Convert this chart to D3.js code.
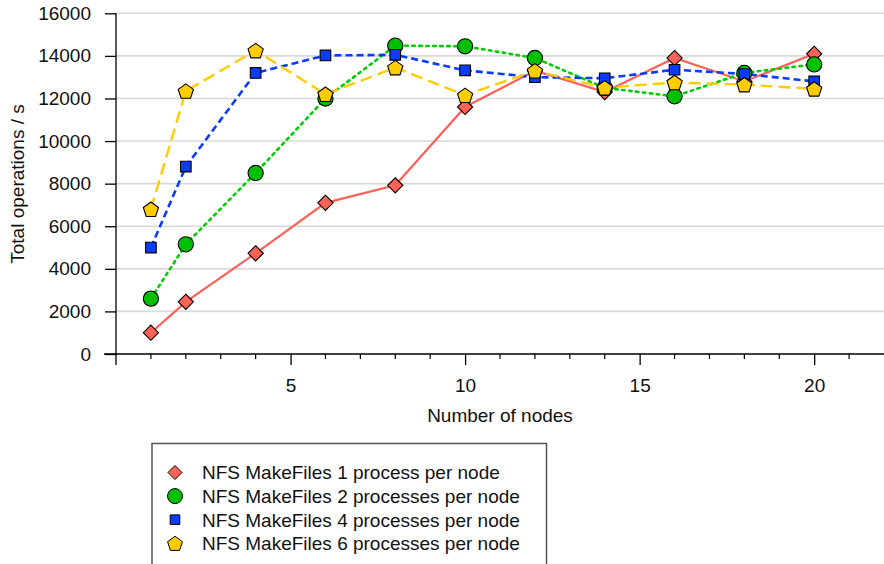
<!DOCTYPE html>
<html><head><meta charset="utf-8">
<script src="https://cdnjs.cloudflare.com/ajax/libs/d3/7.8.5/d3.min.js"></script>
<style>
html,body{margin:0;padding:0;background:#fff;}
svg{display:block;font-family:"Liberation Sans",Arial,Helvetica,sans-serif;}
</style></head>
<body><svg id="chart" width="884" height="564"></svg>
<script>
const nodes = [1, 2, 4, 6, 8, 10, 12, 14, 16, 18, 20];
const seriesNames = [
  "NFS MakeFiles 1 process per node",
  "NFS MakeFiles 2 processes per node",
  "NFS MakeFiles 4 processes per node",
  "NFS MakeFiles 6 processes per node"
];
const ops1 = [1000, 2450, 4730, 7100, 7920, 11600, 13300, 12300, 13900, 12800, 14100];
const ops2 = [2600, 5150, 8500, 12000, 14480, 14450, 13900, 12500, 12100, 13200, 13600];
const ops4 = [5000, 8800, 13200, 14020, 14050, 13320, 13000, 12950, 13350, 13150, 12800];
const ops6 = [6800, 12350, 14250, 12200, 13450, 12150, 13300, 12500, 12750, 12650, 12450];
const yTicks = [0, 2000, 4000, 6000, 8000, 10000, 12000, 14000, 16000];
const xMajorTicks = [5, 10, 15, 20];
const xTitle = "Number of nodes";
const yTitle = "Total operations / s";

const seriesValues = [ops1, ops2, ops4, ops6];
const colors = ["#fb6158", "#00cc00", "#0a3cff", "#ffcc00"];
const markerFill = ["#ff6257", "#00c000", "#0a3cff", "#ffcc00"];
const dashes = [null, "2.5,4.5", "7,4", "12,6"];
const lineWidths = [2.2, 2.6, 2.6, 2.4];
const shapes = ["diamond", "circle", "square", "pentagon"];
const FS = 19;

const svg = d3.select("#chart");
const x = d3.scaleLinear().domain([0, 22]).range([116, 884]);
const y = d3.scaleLinear().domain([0, 16000]).range([354, 13.3]);

function shapePath(kind, s) {
  const p = d3.path();
  if (kind === "diamond") {
    p.moveTo(0, -s); p.lineTo(s, 0); p.lineTo(0, s); p.lineTo(-s, 0); p.closePath();
  } else if (kind === "circle") {
    p.arc(0, 0, s, 0, 2 * Math.PI); p.closePath();
  } else if (kind === "square") {
    p.rect(-s, -s, 2 * s, 2 * s);
  } else {
    for (let i = 0; i < 5; i++) {
      const a = -Math.PI / 2 + i * 2 * Math.PI / 5;
      const px = s * Math.cos(a), py = s * Math.sin(a) + s * 0.1;
      if (i === 0) p.moveTo(px, py); else p.lineTo(px, py);
    }
    p.closePath();
  }
  return p.toString();
}
const plotSize = {diamond: 7.6, circle: 7.6, square: 5.3, pentagon: 8};
const legSize = {diamond: 7, circle: 7.5, square: 4.8, pentagon: 7.8};

// gridlines
svg.append("g").selectAll("line").data(yTicks.filter(d => d > 0)).join("line")
  .attr("x1", x(0)).attr("x2", 884).attr("y1", d => y(d)).attr("y2", d => y(d))
  .attr("stroke", "#d9d9d9").attr("stroke-width", 1.6);

// y axis
const yAxis = svg.append("g").attr("transform", `translate(${x(0)},0)`)
  .call(d3.axisLeft(y).tickValues(yTicks).tickSize(11).tickPadding(14).tickFormat(d3.format("d")));
yAxis.select(".domain").remove();
yAxis.selectAll(".tick line").attr("stroke", "#000").attr("stroke-width", 1.3);
yAxis.selectAll("text").attr("font-size", FS).attr("fill", "#111")
  .attr("font-family", "Liberation Sans, Arial, sans-serif");
svg.append("line").attr("x1", x(0)).attr("x2", x(0)).attr("y1", y(16000)).attr("y2", 365)
  .attr("stroke", "#000").attr("stroke-width", 1.3);

// x axis
svg.append("line").attr("x1", 104).attr("x2", 884).attr("y1", y(0)).attr("y2", y(0))
  .attr("stroke", "#000").attr("stroke-width", 1.3);
const minor = d3.range(1, 22).filter(d => d % 5 !== 0);
svg.append("g").selectAll("line").data(minor).join("line")
  .attr("x1", d => x(d)).attr("x2", d => x(d)).attr("y1", y(0)).attr("y2", y(0) + 5)
  .attr("stroke", "#000").attr("stroke-width", 1.2);
const xAxis = svg.append("g").attr("transform", `translate(0,${y(0)})`)
  .call(d3.axisBottom(x).tickValues(xMajorTicks).tickSize(11).tickPadding(14).tickFormat(d3.format("d")));
xAxis.select(".domain").remove();
xAxis.selectAll(".tick line").attr("stroke", "#000").attr("stroke-width", 1.3);
xAxis.selectAll("text").attr("font-size", FS).attr("fill", "#111")
  .attr("font-family", "Liberation Sans, Arial, sans-serif");

// titles
svg.append("text").attr("x", (x(0) + 884) / 2).attr("y", 422).attr("text-anchor", "middle")
  .attr("font-size", FS).attr("fill", "#111").text(xTitle);
svg.append("text").attr("transform", "translate(24,184) rotate(-90)").attr("text-anchor", "middle")
  .attr("font-size", FS).attr("fill", "#111").text(yTitle);

// lines
const line = d3.line().x(d => x(d[0])).y(d => y(d[1]));
seriesValues.forEach((vals, i) => {
  const pts = nodes.map((n, j) => [n, vals[j]]);
  svg.append("path").datum(pts).attr("d", line).attr("fill", "none")
    .attr("stroke", colors[i]).attr("stroke-width", lineWidths[i])
    .attr("stroke-dasharray", dashes[i]).attr("stroke-linecap", i === 1 ? "round" : "butt");
});
// markers
seriesValues.forEach((vals, i) => {
  const pts = nodes.map((n, j) => [n, vals[j]]);
  svg.append("g").selectAll("path").data(pts).join("path")
    .attr("transform", d => `translate(${x(d[0])},${y(d[1])})`)
    .attr("d", shapePath(shapes[i], plotSize[shapes[i]]))
    .attr("fill", markerFill[i]).attr("stroke", "#000").attr("stroke-width", 1.1);
});

// legend
svg.append("path").attr("d", "M152,564 V443.5 H546.5 V564")
  .attr("fill", "none").attr("stroke", "#555").attr("stroke-width", 1.5);
seriesNames.forEach((name, i) => {
  const cy = 472.5 + i * 23.6;
  svg.append("path").attr("transform", `translate(175,${cy})`)
    .attr("d", shapePath(shapes[i], legSize[shapes[i]]))
    .attr("fill", markerFill[i]).attr("stroke", "#000").attr("stroke-width", 1);
  svg.append("text").attr("x", 202).attr("y", cy + 6.8).attr("font-size", FS)
    .attr("fill", "#111").text(name);
});
</script></body></html>
